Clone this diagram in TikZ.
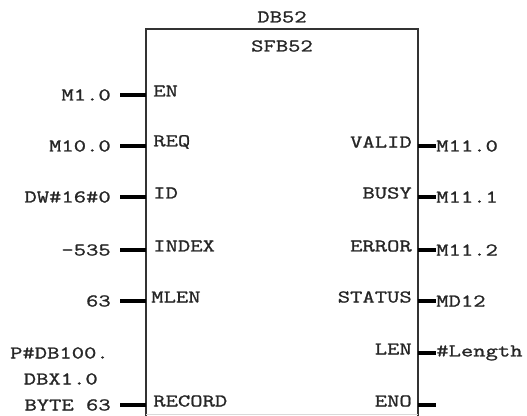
\documentclass[tikz,border=0pt]{standalone}
\usepackage{fontspec}
\setmonofont[FakeStretch=1.33,FakeBold=1.2]{Latin Modern Mono}
\usetikzlibrary{positioning}
\tikzset{
    pinlabel/.style={font=\ttfamily\fontsize{13.5pt}{15pt}\selectfont, inner sep=0pt, text=black!85},
    inlabel/.style={pinlabel, anchor=east},
    outlabel/.style={pinlabel, anchor=west},
    stub/.style={line width=3pt, black},
}
\begin{document}
\begin{tikzpicture}[x=0.75pt, y=-0.75pt]
        \useasboundingbox (0,0) rectangle (527,416);

        % block outline, open at the bottom
        \coordinate (bl) at (146,416);
        \coordinate (tl) at (146,29);
        \coordinate (tr) at (418,29);
        \coordinate (br) at (418,416);
        \draw[line width=1.4pt, black!80] (bl) -- (tl) -- (tr) -- (br);
        \draw[line width=0.6pt, black!15] (bl) ++(0,-2) -- ++(272,0);

        \node[pinlabel] (db) at (282,17) {DB52};
        \node[pinlabel] (sfb) at (282,46) {SFB52};

        % input pins
        \foreach \name/\val/\pin/\y/\px in {en/M1.0/EN/95/153, req/M10.0/REQ/146/153, id/DW\#16\#0/ID/197/153, index/-535/INDEX/250/153, mlen/63/MLEN/301/151, record/BYTE 63/RECORD/405/153} {
            \coordinate (\name) at (146,\y);
            \coordinate (\name s) at (120,\y);
            \draw[stub] (\name s) -- (\name);
            \node[inlabel] (\name v) at (111,\y) {\val};
            \node[outlabel] (\name p) at (\px,\y-4) {\pin};
        }
        \node[inlabel] (recorda) at (109,353) {P\#DB100.};
        \node[inlabel] (recordb) at (98,379) {DBX1.0};

        % output pins
        \foreach \name/\val/\pin/\y in {valid/M11.0/VALID/146, busy/M11.1/BUSY/197, error/M11.2/ERROR/250, status/MD12/STATUS/301, len/\#Length/LEN/353, eno//ENO/405} {
            \coordinate (\name) at (418,\y);
            \coordinate (\name s) at (436,\y);
            \draw[stub] (\name) -- (\name s);
            \node[outlabel] (\name v) at (436,\y) {\val};
            \node[inlabel] (\name p) at (412,\y-4) {\pin};
        }
\end{tikzpicture}
\end{document}
